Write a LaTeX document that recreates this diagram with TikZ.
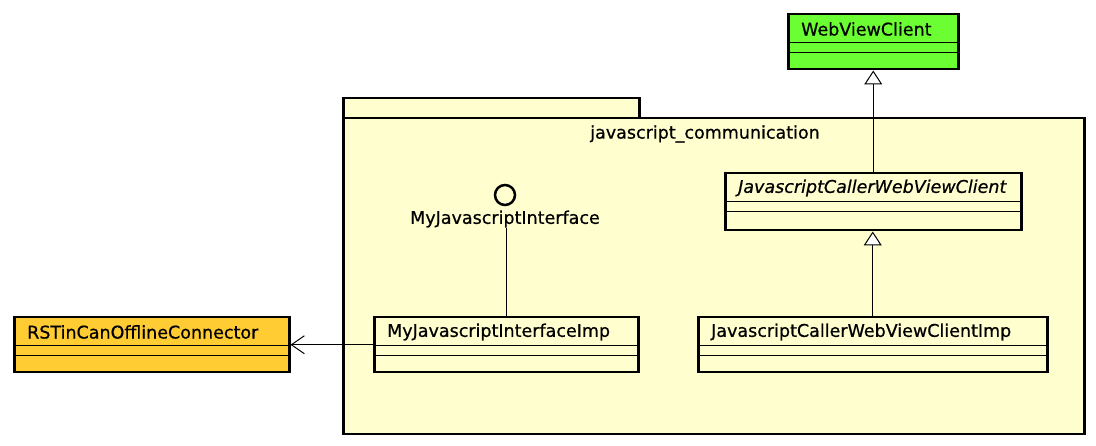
\documentclass[tikz,border=0pt]{standalone}
\usepackage{fontspec}
\setmainfont[FakeBold=0.6]{DejaVu Sans}
\usetikzlibrary{positioning}
\usetikzlibrary{arrows.meta}

\definecolor{pkgfill}{RGB}{254,254,206}
\definecolor{greenfill}{RGB}{107,255,51}
\definecolor{orangefill}{RGB}{255,204,51}

\tikzset{
  classbox/.style={draw, line width=2.5pt, anchor=north west, inner sep=0pt, minimum height=55pt},
  classname/.style={anchor=west, inner sep=0pt, font=\fontsize{17.5}{20}\selectfont},
  pkgbox/.style={draw, line width=2.5pt, fill=pkgfill, anchor=north west, inner sep=0pt},
  extends/.style={-{Triangle[length=14pt, width=18pt, fill=white]}, line width=1pt},
  uses/.style={-{Straight Barb[length=13pt, width=18pt]}, line width=1pt},
}

\begin{document}
\begin{tikzpicture}[x=1pt, y=-1pt]
    \useasboundingbox (0,0) rectangle (1096,446);

    % package
    \node[pkgbox, minimum width=296pt, minimum height=20pt] (tab) at (342,97) {};
    \node[pkgbox, minimum width=741pt, minimum height=316pt] (pkg) at (342,117) {};
    \node[classname, anchor=center] (pkgname) at (705,134) {javascript\_communication};

    % classes
    \node[classbox, fill=greenfill, minimum width=170pt] (wvc) at (787,13) {};
    \node[classbox, fill=pkgfill, minimum width=296pt, minimum height=57pt] (jcw) at (724,172) {};
    \node[classbox, fill=pkgfill, minimum width=349pt] (jcwi) at (697,316) {};
    \node[classbox, fill=pkgfill, minimum width=264pt] (mjii) at (373,316) {};
    \node[classbox, fill=orangefill, minimum width=275pt] (rst) at (13,316) {};

    \foreach \c in {wvc,jcw,jcwi,mjii,rst} {
        \draw[line width=1pt] ([yshift=-30pt]\c.north west) -- ([yshift=-30pt]\c.north east);
        \draw[line width=1pt] ([yshift=-40pt]\c.north west) -- ([yshift=-40pt]\c.north east);
    }

    \node[classname] (wvc-name) at ([xshift=14pt, yshift=-16pt]wvc.north west) {WebViewClient};
    \node[classname] (jcw-name) at ([xshift=14pt, yshift=-16pt]jcw.north west) {\itshape JavascriptCallerWebViewClient};
    \node[classname] (jcwi-name) at ([xshift=14pt, yshift=-16pt]jcwi.north west) {JavascriptCallerWebViewClientImp};
    \node[classname] (mjii-name) at ([xshift=14pt, yshift=-16pt]mjii.north west) {MyJavascriptInterfaceImp};
    \node[classname] (rst-name) at ([xshift=14pt, yshift=-16pt]rst.north west) {RSTinCanOfflineConnector};

    % interface
    \node[circle, draw, line width=2.5pt, fill=pkgfill, minimum size=20pt, inner sep=0pt] (iface) at (505,195) {};
    \node[classname, anchor=center] (iface-name) at (505,219) {MyJavascriptInterface};

    % relations
    \draw[line width=1pt] (mjii.north) -- (mjii.north |- iface-name.south);
    \draw[extends] (jcw.north) -- (jcw.north |- wvc.south);
    \draw[extends] (jcwi.north) -- (jcwi.north |- jcw.south);
    \draw[uses] (mjii) -- (rst);
\end{tikzpicture}
\end{document}
